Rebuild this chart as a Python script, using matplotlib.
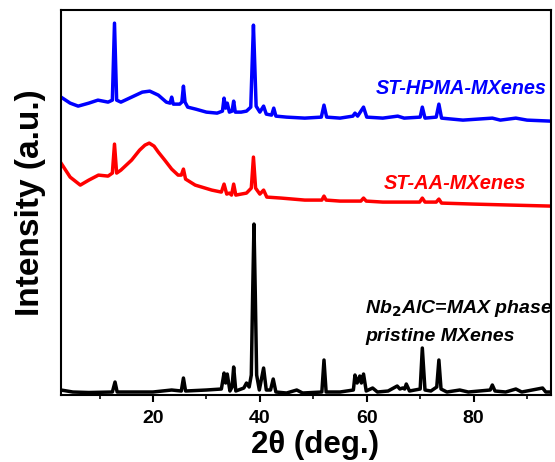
import matplotlib
matplotlib.use("Agg")
import matplotlib.pyplot as plt
from matplotlib.ticker import MultipleLocator

plt.rcParams['font.family'] = ['Liberation Sans', 'DejaVu Sans']

# XRD patterns (2theta in deg, intensity in a.u., already stacked)
hpma_2t = [2.8, 4.5, 6.0, 8.0, 9.7, 11.6, 12.4, 12.8, 13.2, 14.0, 16.0, 18.0, 19.4,
           21.0, 22.5, 23.2, 23.5, 23.8, 25.0, 25.4, 25.7, 26.0, 26.5, 28.0, 30.0,
           32.0, 33.0, 33.3, 33.6, 33.9, 34.3, 34.8, 35.1, 35.4, 36.5, 37.5, 38.3,
           38.55, 38.8, 39.05, 39.3, 40.0, 40.7, 41.2, 42.2, 42.6, 43.0, 45.0, 48.4,
           51.5, 52.0, 52.5, 55.0, 57.4, 57.8, 58.3, 59.4, 60.0, 63.0, 65.8, 67.0,
           70.0, 70.4, 70.9, 73.0, 73.5, 74.0, 78.0, 83.5, 85.0, 87.9, 90.0, 94.4]
hpma_int = [298, 292, 289, 292, 295, 293, 295, 372, 295, 293, 298, 303, 304,
            300, 293, 292, 298, 291, 291, 293, 309, 293, 288, 286, 283,
            282, 284, 297, 287, 292, 283, 284, 294, 283, 283, 284, 288,
            330, 370, 330, 289, 283, 289, 281, 280, 287, 279, 278, 277,
            278, 290, 278, 277, 279, 282, 279, 288, 278, 277, 279, 277,
            278, 288, 277, 278, 291, 277, 275, 277, 275, 277, 275, 274]

aa_2t = [2.8, 4.5, 6.4, 8.0, 9.8, 11.6, 12.4, 12.8, 13.2, 14.0, 16.0, 17.5, 18.5,
         19.3, 20.2, 21.0, 22.2, 23.5, 24.7, 25.3, 25.7, 26.1, 27.9, 31.0, 32.8,
         33.3, 33.8, 34.3, 34.7, 35.1, 35.5, 37.5, 38.4, 38.8, 39.2, 40.0, 40.7,
         41.3, 44.0, 48.4, 51.6, 52.0, 52.4, 55.0, 58.9, 59.4, 59.9, 63.0, 69.9,
         70.4, 70.9, 73.0, 73.5, 74.0, 80.0, 87.0, 94.4]
aa_int = [232, 218, 210, 215, 220, 219, 222, 251, 222, 225, 235, 245, 250,
          252, 249, 243, 235, 226, 220, 220, 226, 216, 210, 205, 203,
          211, 201, 202, 200, 211, 200, 202, 207, 238, 207, 201, 205,
          198, 197, 195, 195, 199, 195, 194, 194, 197, 194, 193, 193,
          197, 193, 193, 196, 192, 191, 190, 189]

max_2t = [2.8, 5.0, 8.0, 12.4, 12.9, 13.3, 20.0, 23.5, 25.3, 25.7, 26.1, 30.0, 32.8,
          33.3, 33.6, 33.9, 34.4, 34.8, 35.1, 35.5, 37.0, 37.5, 38.0, 38.4, 38.65,
          38.9, 39.15, 39.4, 39.9, 40.7, 41.2, 42.0, 42.5, 43.0, 45.0, 46.9, 48.0,
          51.6, 52.0, 52.4, 55.0, 57.5, 57.8, 58.2, 58.7, 59.0, 59.4, 59.9, 61.1,
          62.0, 64.0, 65.7, 66.2, 66.7, 67.1, 67.4, 68.0, 70.0, 70.4, 70.9, 72.0,
          73.1, 73.5, 73.9, 75.0, 77.4, 79.0, 83.1, 83.5, 84.0, 86.0, 87.9, 89.0,
          92.9, 93.5, 94.4]
max_int = [5, 3, 2.5, 3, 13, 3, 3, 5, 4, 17, 4, 5, 6,
           22, 12, 21, 4, 8, 28, 4, 7, 12, 8, 20, 100,
           171, 100, 20, 5, 27, 5, 5, 16, 3, 2, 5, 2,
           3, 35, 3, 3, 5, 20, 12, 19, 12, 21, 4, 7,
           3, 4, 9, 6, 7, 6, 11, 4, 6, 47, 5, 4,
           8, 35, 6, 3, 5, 3, 5, 10, 4, 3, 6, 3,
           7, 3, 3]

fig = plt.figure(figsize=(5.55, 4.62), dpi=100)
ax = fig.add_axes([0.110, 0.145, 0.883, 0.833])

ax.plot(max_2t, max_int, color='black', lw=2.5)
ax.plot(aa_2t, aa_int, color='#ff0000', lw=2.5)
ax.plot(hpma_2t, hpma_int, color='#0000ff', lw=2.5)

ax.set_xlim(2.8, 94.5)
ax.set_ylim(0, 385)
ax.xaxis.set_major_locator(MultipleLocator(20))
ax.xaxis.set_minor_locator(MultipleLocator(10))
ax.set_yticks([])
ax.tick_params(axis='x', which='major', direction='out', length=5, width=1.5,
               labelsize=14, pad=6)
ax.tick_params(axis='x', which='minor', direction='out', length=3, width=1.2)
for lab in ax.get_xticklabels():
    lab.set_fontweight('bold')
for sp in ax.spines.values():
    sp.set_linewidth(1.5)

ax.set_xlabel('2θ (deg.)', fontsize=22.5, fontweight='bold')
ax.xaxis.set_label_coords(0.518, -0.092)
ax.set_ylabel('Intensity (a.u.)', fontsize=24, fontweight='bold', labelpad=11)

ax.text(93.6, 307, 'ST-HPMA-MXenes', color='#0000ff', fontsize=14.3,
        fontweight='bold', style='italic', ha='right', va='center')
ax.text(89.9, 212, 'ST-AA-MXenes', color='#ff0000', fontsize=14.4,
        fontweight='bold', style='italic', ha='right', va='center')
ax.text(59.7, 87, r'Nb$_\mathbf{2}$AlC=MAX phase', color='black', fontsize=14,
        fontweight='bold', style='italic', ha='left', va='center')
ax.text(59.7, 59, 'pristine MXenes', color='black', fontsize=14,
        fontweight='bold', style='italic', ha='left', va='center')

fig.savefig('out.png', dpi=100)
